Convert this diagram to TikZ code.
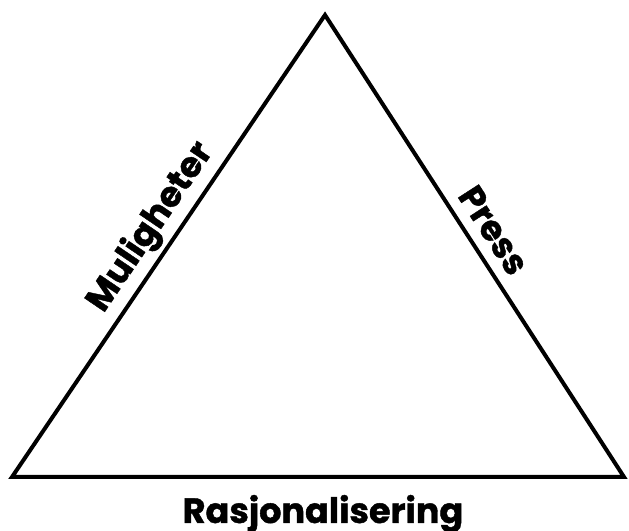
\documentclass[tikz,border=0pt]{standalone}
\usepackage{fontspec}
\setmainfont{Poppins}[UprightFont=* Bold, FakeBold=1.2]
\begin{document}
\begin{tikzpicture}[x=1pt,y=1pt,
  side/.style={line width=4pt,line join=miter,draw=black},
  lbl/.style={font=\fontsize{35}{38}\selectfont, inner sep=2pt}]
\useasboundingbox (0,0) rectangle (629,530);
\coordinate (A) at (325,515);
\coordinate (B) at (12,53);
\coordinate (C) at (624,53);
\draw[side] (A) -- (C) -- (B) -- cycle;
\path (B) -- (A) node[lbl, pos=0.51, sloped, above=4pt] (mul) {Muligheter};
\path (A) -- (C) node[lbl, pos=0.495, sloped, above=10pt] (press) {Press};
\node[lbl, anchor=base] (ras) at (323,7) {Rasjonalisering};
\end{tikzpicture}
\end{document}
